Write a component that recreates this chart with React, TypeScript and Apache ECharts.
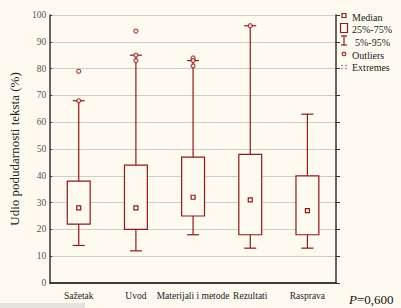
import React, { useEffect, useRef } from "react";
import * as echarts from "echarts";

const categories = ["Sažetak", "Uvod", "Materijali i metode", "Rezultati", "Rasprava"];
const whiskerLow = [14, 12, 18, 13, 13];
const q1 = [22, 20, 25, 18, 18];
const median = [28, 28, 32, 31, 27];
const q3 = [38, 44, 47, 48, 40];
const whiskerHigh = [68, 85, 83, 96, 63];
const outliers: [number, number][] = [
  [0, 79], [0, 68],
  [1, 94], [1, 85], [1, 83],
  [2, 84], [2, 83], [2, 81],
  [3, 96],
];
const yTicks = { min: 0, max: 100, interval: 10 };
const legendItems = ["Median", "25%-75%", "5%-95%", "Outliers", "Extremes"];
const pText = "0,600";

const RED = "#8c1a1a";
const BG = "#fefaf0";
const FONT = "Liberation Serif";

export default function App() {
  const ref = useRef<HTMLDivElement>(null);
  useEffect(() => {
    document.body.style.margin = "0";
    if (!ref.current) return;
    const chart = echarts.init(ref.current, undefined, { renderer: "svg" });
    const boxData = categories.map((_, i) => [i, whiskerLow[i], q1[i], median[i], q3[i], whiskerHigh[i]]);
    const lx = 344;
    chart.setOption({
      animation: false,
      backgroundColor: BG,
      grid: { left: 47, right: 65, top: 15, bottom: 25 },
      xAxis: [
        {
          type: "category",
          data: categories,
          axisLine: { lineStyle: { color: "#333", width: 1.5 } },
          axisTick: { inside: true, alignWithLabel: true, length: 3, lineStyle: { color: "#333" } },
          axisLabel: { fontFamily: FONT, fontSize: 9.5, color: "#222", margin: 8, interval: 0 },
        },
        {
          type: "category",
          data: categories,
          position: "top",
          axisLine: { lineStyle: { color: "#333", width: 1.5 } },
          axisTick: { inside: true, alignWithLabel: true, length: 3, lineStyle: { color: "#333" } },
          axisLabel: { show: false },
        },
      ],
      yAxis: [
        {
          type: "value",
          min: yTicks.min,
          max: yTicks.max,
          interval: yTicks.interval,
          name: "Udio podudarnosti teksta (%)",
          nameLocation: "middle",
          nameGap: 24,
          nameTextStyle: { fontFamily: FONT, fontSize: 13, color: "#222" },
          axisLine: { show: true, lineStyle: { color: "#333", width: 1.5 } },
          axisTick: { show: true, inside: true, length: 2, lineStyle: { color: "#333" } },
          axisLabel: { fontFamily: FONT, fontSize: 9.5, color: "#555", margin: 4 },
          splitLine: { lineStyle: { color: "#cfcdc8", width: 1 } },
        },
        {
          type: "value",
          min: yTicks.min,
          max: yTicks.max,
          interval: yTicks.interval,
          position: "right",
          axisLine: { show: true, lineStyle: { color: "#333", width: 1.5 } },
          axisTick: { show: true, length: 4, lineStyle: { color: "#333" } },
          axisLabel: { show: false },
          splitLine: { show: false },
        },
      ],
      series: [
        {
          type: "custom",
          data: boxData,
          encode: { x: 0, y: [1, 2, 3, 4, 5] },
          renderItem: (params: any, api: any) => {
            const i = api.value(0);
            const lo = api.coord([i, api.value(1)]);
            const b1 = api.coord([i, api.value(2)]);
            const md = api.coord([i, api.value(3)]);
            const b3 = api.coord([i, api.value(4)]);
            const hi = api.coord([i, api.value(5)]);
            const bw = api.size([1, 0])[0] * 0.4;
            const cw = api.size([1, 0])[0] * 0.21;
            const x = lo[0];
            const ls = { stroke: RED, lineWidth: 1.2 };
            return {
              type: "group",
              children: [
                { type: "line", shape: { x1: x, y1: lo[1], x2: x, y2: b1[1] }, style: ls },
                { type: "line", shape: { x1: x, y1: b3[1], x2: x, y2: hi[1] }, style: ls },
                { type: "line", shape: { x1: x - cw / 2, y1: lo[1], x2: x + cw / 2, y2: lo[1] }, style: ls },
                { type: "line", shape: { x1: x - cw / 2, y1: hi[1], x2: x + cw / 2, y2: hi[1] }, style: ls },
                {
                  type: "rect",
                  shape: { x: x - bw / 2, y: b3[1], width: bw, height: b1[1] - b3[1] },
                  style: { fill: BG, stroke: RED, lineWidth: 1.2 },
                },
                {
                  type: "rect",
                  shape: { x: x - 2, y: md[1] - 2, width: 4, height: 4 },
                  style: { fill: BG, stroke: RED, lineWidth: 1.2 },
                },
              ],
            };
          },
          z: 2,
        },
        {
          type: "scatter",
          data: outliers,
          symbol: "circle",
          symbolSize: 4,
          itemStyle: { color: BG, borderColor: RED, borderWidth: 1.2 },
          z: 3,
        },
      ],
      graphic: [
        { type: "rect", shape: { x: lx - 2, y: 13.5, width: 4, height: 4 }, style: { fill: BG, stroke: RED, lineWidth: 1.2 } },
        { type: "rect", shape: { x: lx - 3.5, y: 23.5, width: 7, height: 9 }, style: { fill: BG, stroke: RED, lineWidth: 1.2 } },
        { type: "line", shape: { x1: lx, y1: 36, x2: lx, y2: 45 }, style: { stroke: RED, lineWidth: 1.2 } },
        { type: "line", shape: { x1: lx - 3, y1: 36, x2: lx + 3, y2: 36 }, style: { stroke: RED, lineWidth: 1.2 } },
        { type: "line", shape: { x1: lx - 3, y1: 45, x2: lx + 3, y2: 45 }, style: { stroke: RED, lineWidth: 1.2 } },
        { type: "circle", shape: { cx: lx, cy: 54, r: 1.8 }, style: { fill: BG, stroke: RED, lineWidth: 1.1 } },
        { type: "circle", shape: { cx: lx - 2, cy: 65.5, r: 0.6 }, style: { fill: RED } },
        { type: "circle", shape: { cx: lx - 2, cy: 68.5, r: 0.6 }, style: { fill: RED } },
        { type: "circle", shape: { cx: lx + 2, cy: 65.5, r: 0.6 }, style: { fill: RED } },
        { type: "circle", shape: { cx: lx + 2, cy: 68.5, r: 0.6 }, style: { fill: RED } },
        ...legendItems.map((t, k) => ({
          type: "text",
          x: k === 2 ? 355 : 352,
          y: [17, 29, 42, 55, 67][k],
          style: { text: t, fontFamily: FONT, fontSize: 10, fill: "#222", verticalAlign: "middle" },
        })),
        {
          type: "text",
          x: 349,
          y: 299,
          style: {
            text: "{i|P}=" + pText,
            fontFamily: FONT,
            fontSize: 13,
            fill: "#111",
            verticalAlign: "middle",
            rich: { i: { fontStyle: "italic", fontFamily: FONT, fontSize: 13, fill: "#111" } },
          },
        },
        { type: "rect", shape: { x: 0, y: 303, width: 85, height: 5 }, style: { fill: "#cccccc", opacity: 0.5 } },
      ],
    });
    return () => chart.dispose();
  }, []);
  return <div ref={ref} style={{ width: 401, height: 308 }} />;
}
